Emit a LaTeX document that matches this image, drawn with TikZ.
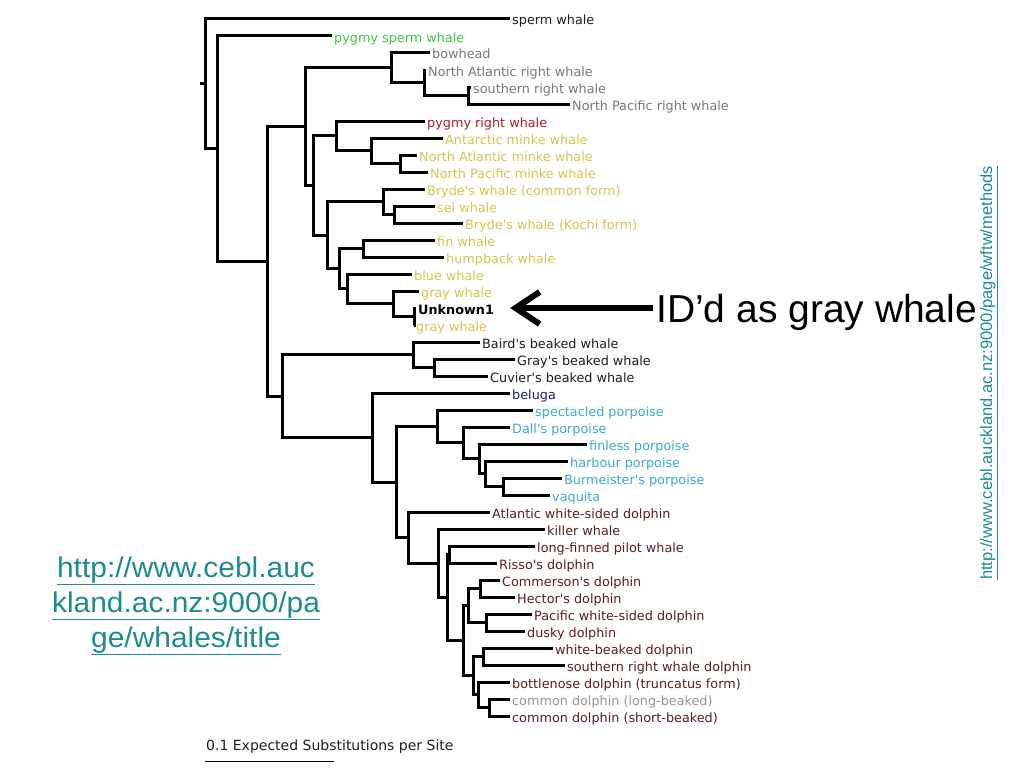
\documentclass[tikz,border=0pt]{standalone}
\usepackage{fontspec}
\usetikzlibrary{arrows.meta}
\newfontfamily\treefont{DejaVu Sans}
\newfontfamily\arialfont{Liberation Sans}
\newfontfamily\arialwide[FakeStretch=1.05]{Liberation Sans}
\definecolor{cdark}{RGB}{30,30,30}
\definecolor{cgreen}{RGB}{60,200,60}
\definecolor{cgray}{RGB}{120,120,120}
\definecolor{clgray}{RGB}{150,150,150}
\definecolor{cred}{RGB}{170,30,40}
\definecolor{cyel}{RGB}{214,196,80}
\definecolor{cnavy}{RGB}{30,30,120}
\definecolor{ccyan}{RGB}{60,170,200}
\definecolor{cmaroon}{RGB}{90,30,30}
\definecolor{cteal}{RGB}{30,140,140}
\newcommand\clade[3]{\draw[br] (#1) |- (#2); \draw[br] (#1) |- (#3);}
\begin{document}
\begin{tikzpicture}[x=1pt,y=-1pt,
  br/.style={line width=3pt},
  leaf/.style={anchor=west, inner xsep=2pt, inner ysep=0pt, text height=12pt, text depth=0pt,
    font=\treefont\fontsize{12.8}{15}\selectfont},
  bigarrow/.style={line width=6pt, -{Straight Barb[length=24pt,width=32pt]}},
  url/.style={text=cteal, inner sep=0pt}]
\useasboundingbox[fill=white] (0,0) rectangle (1024,768);

% leaves
\node[leaf,text=cdark] (l0) at (510,19) {sperm whale};
\node[leaf,text=cgreen] (l1) at (332,36) {pygmy sperm whale};
\node[leaf,text=cgray] (l2) at (430,53) {bowhead};
\node[leaf,text=cgray] (l3) at (426,70) {North Atlantic right whale};
\node[leaf,text=cgray] (l4) at (471,87) {southern right whale};
\node[leaf,text=cgray] (l5) at (570,104) {North Pacific right whale};
\node[leaf,text=cred] (l6) at (425,121) {pygmy right whale};
\node[leaf,text=cyel] (l7) at (443,138) {Antarctic minke whale};
\node[leaf,text=cyel] (l8) at (417,155) {North Atlantic minke whale};
\node[leaf,text=cyel] (l9) at (428,172) {North Pacific minke whale};
\node[leaf,text=cyel] (l10) at (425,189) {Bryde's whale (common form)};
\node[leaf,text=cyel] (l11) at (435,206) {sei whale};
\node[leaf,text=cyel] (l12) at (463,223) {Bryde's whale (Kochi form)};
\node[leaf,text=cyel] (l13) at (435,240) {fin whale};
\node[leaf,text=cyel] (l14) at (444,257) {humpback whale};
\node[leaf,text=cyel] (l15) at (412,274) {blue whale};
\node[leaf,text=cyel] (l16) at (419,291) {gray whale};
\node[leaf,text=black,font=\treefont\bfseries\fontsize{12.8}{15}\selectfont] (l17) at (416,308) {Unknown1};
\node[leaf,text=cyel] (l18) at (414,325) {gray whale};
\node[leaf,text=cdark] (l19) at (480,342) {Baird's beaked whale};
\node[leaf,text=cdark] (l20) at (515,359) {Gray's beaked whale};
\node[leaf,text=cdark] (l21) at (488,376) {Cuvier's beaked whale};
\node[leaf,text=cnavy] (l22) at (510,393) {beluga};
\node[leaf,text=ccyan] (l23) at (533,410) {spectacled porpoise};
\node[leaf,text=ccyan] (l24) at (510,427) {Dall's porpoise};
\node[leaf,text=ccyan] (l25) at (587,444) {finless porpoise};
\node[leaf,text=ccyan] (l26) at (568,461) {harbour porpoise};
\node[leaf,text=ccyan] (l27) at (562,478) {Burmeister's porpoise};
\node[leaf,text=ccyan] (l28) at (550,495) {vaquita};
\node[leaf,text=cmaroon] (l29) at (490,512) {Atlantic white-sided dolphin};
\node[leaf,text=cmaroon] (l30) at (545,529) {killer whale};
\node[leaf,text=cmaroon] (l31) at (535,546) {long-finned pilot whale};
\node[leaf,text=cmaroon] (l32) at (497,563) {Risso's dolphin};
\node[leaf,text=cmaroon] (l33) at (500,580) {Commerson's dolphin};
\node[leaf,text=cmaroon] (l34) at (515,597) {Hector's dolphin};
\node[leaf,text=cmaroon] (l35) at (532,614) {Pacific white-sided dolphin};
\node[leaf,text=cmaroon] (l36) at (525,631) {dusky dolphin};
\node[leaf,text=cmaroon] (l37) at (553,648) {white-beaked dolphin};
\node[leaf,text=cmaroon] (l38) at (565,665) {southern right whale dolphin};
\node[leaf,text=cmaroon] (l39) at (510,682) {bottlenose dolphin (truncatus form)};
\node[leaf,text=clgray] (l40) at (510,699) {common dolphin (long-beaked)};
\node[leaf,text=cmaroon] (l41) at (510,716) {common dolphin (short-beaked)};

% internal nodes
\coordinate (a1) at (468,95.5);
\coordinate (a2) at (424,82.75);
\coordinate (a3) at (391,67.9);
\coordinate (b1) at (400,163.5);
\coordinate (b2) at (371,150.75);
\coordinate (b3) at (336,135.9);
\coordinate (c1) at (394,214.5);
\coordinate (c2) at (383,201.75);
\coordinate (d1) at (363,248.5);
\coordinate (e1) at (414.5,316.5);
\coordinate (e2) at (393,303.75);
\coordinate (e3) at (347,288.9);
\coordinate (d2) at (339,268.7);
\coordinate (c3) at (327,235.2);
\coordinate (b4) at (313.5,185.5);
\coordinate (a4) at (305,126.7);
\coordinate (f1) at (434,367.5);
\coordinate (f2) at (413,354.75);
\coordinate (g1) at (503,486.5);
\coordinate (g2) at (485,473.75);
\coordinate (g3) at (479,458.9);
\coordinate (g4) at (463,442.9);
\coordinate (g5) at (437,426.5);
\coordinate (h1) at (449,554.5);
\coordinate (h2) at (480,588.5);
\coordinate (h3) at (486,622.5);
\coordinate (h4) at (468,605.5);
\coordinate (h5) at (483,656.5);
\coordinate (h6) at (489,707.5);
\coordinate (h7) at (478,694.75);
\coordinate (h8) at (473,675.6);
\coordinate (h9) at (463,640.6);
\coordinate (h10) at (447,597.5);
\coordinate (h11) at (438,563.25);
\coordinate (h12) at (408,537.6);
\coordinate (i1) at (396,482);
\coordinate (i2) at (372,437.5);
\coordinate (i3) at (282,396.1);
\coordinate (j1) at (267,261.4);
\coordinate (j2) at (217,148.7);
\coordinate (root) at (205,83.9);
\coordinate (rootstub) at (200,83.9);

% branches
\clade{a1}{l4.west}{l5.west}
\clade{a2}{l3.west}{a1}
\clade{a3}{l2.west}{a2}
\clade{b1}{l8.west}{l9.west}
\clade{b2}{l7.west}{b1}
\clade{b3}{l6.west}{b2}
\clade{c1}{l11.west}{l12.west}
\clade{c2}{l10.west}{c1}
\clade{d1}{l13.west}{l14.west}
\clade{e1}{l17.west}{l18.west}
\clade{e2}{l16.west}{e1}
\clade{e3}{l15.west}{e2}
\clade{d2}{d1}{e3}
\clade{c3}{c2}{d2}
\clade{b4}{b3}{c3}
\clade{a4}{a3}{b4}
\clade{f1}{l20.west}{l21.west}
\clade{f2}{l19.west}{f1}
\clade{g1}{l27.west}{l28.west}
\clade{g2}{l26.west}{g1}
\clade{g3}{l25.west}{g2}
\clade{g4}{l24.west}{g3}
\clade{g5}{l23.west}{g4}
\clade{h1}{l31.west}{l32.west}
\clade{h2}{l33.west}{l34.west}
\clade{h3}{l35.west}{l36.west}
\clade{h4}{h2}{h3}
\clade{h5}{l37.west}{l38.west}
\clade{h6}{l40.west}{l41.west}
\clade{h7}{l39.west}{h6}
\clade{h8}{h5}{h7}
\clade{h9}{h4}{h8}
\clade{h10}{h1}{h9}
\clade{h11}{l30.west}{h10}
\clade{h12}{l29.west}{h11}
\clade{i1}{g5}{h12}
\clade{i2}{l22.west}{i1}
\clade{i3}{f2}{i2}
\clade{j1}{a4}{i3}
\clade{j2}{l1.west}{j1}
\clade{root}{l0.west}{j2}
\draw[br] (root) -- (rootstub);

% scale bar
\node[anchor=base west, inner sep=0pt, text=cdark, font=\treefont\fontsize{14}{16}\selectfont] (scale) at (206,750) {0.1 Expected Substitutions per Site};
\coordinate (sb1) at (205,761.5);
\coordinate (sb2) at (334,761.5);
\draw[line width=1.4pt] (sb1) -- (sb2);

% annotation
\node[anchor=base west, inner sep=3pt, font=\arialfont\fontsize{39}{44}\selectfont] (idd) at (653,322) {ID’d as gray whale};
\draw[bigarrow, shorten >=14pt] (idd.west |- l17) -- (l17.east);

% urls
\node[url, align=center, anchor=base, font=\arialwide\fontsize{28.5}{35}\selectfont] (url1) at (186,647)
  {\underline{http://www.cebl.auc}\\\underline{kland.ac.nz:9000/pa}\\\underline{ge/whales/title}};
\node[url, rotate=90, anchor=base, font=\arialfont\fontsize{16.5}{18}\selectfont] (url2) at (992,373)
  {\underline{http://www.cebl.auckland.ac.nz:9000/page/wftw/methods}};
\end{tikzpicture}
\end{document}
